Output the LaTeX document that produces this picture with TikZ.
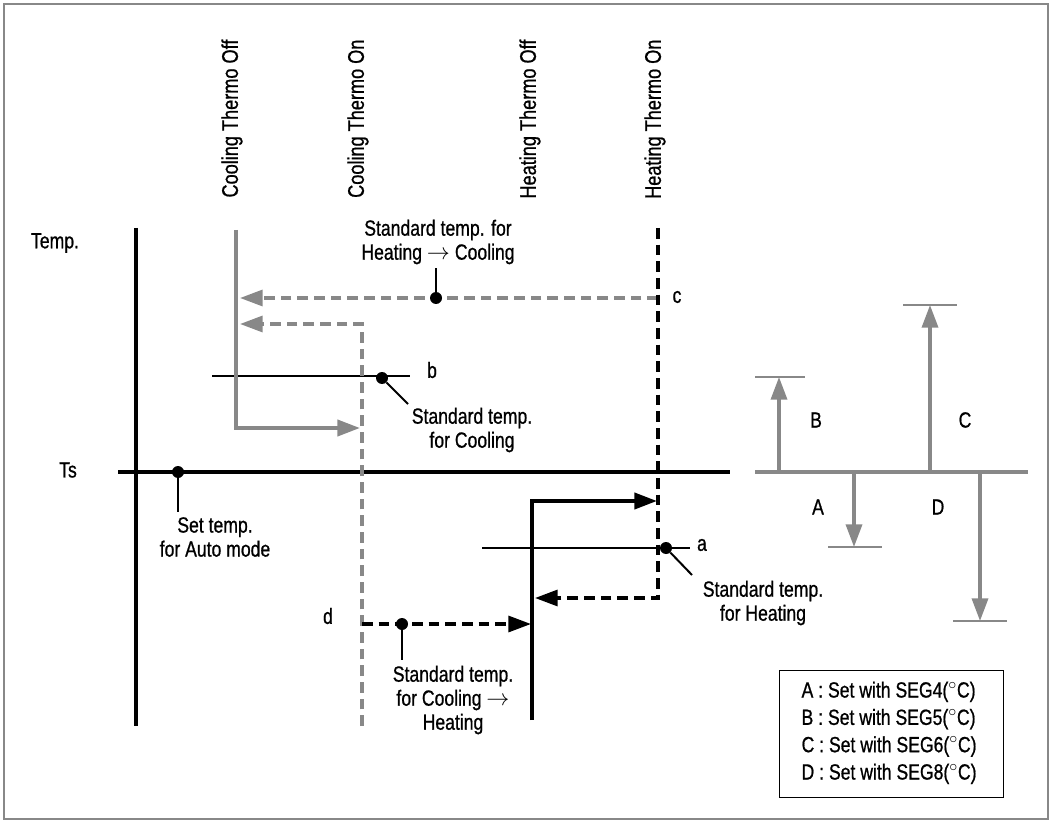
\documentclass[tikz,border=0pt]{standalone}
\usepackage{fontspec}
\setmainfont{Liberation Sans}[FakeStretch=0.8,FakeBold=0.8]
\usetikzlibrary{arrows.meta}
\definecolor{lgray}{RGB}{136,136,136}
\begin{document}
\begin{tikzpicture}[x=0.75pt,y=-0.75pt]
% Definição de estilos
\tikzset{
  lbl/.style={font=\fontsize{16.5}{18}\selectfont, align=center, inner sep=1pt},
  vlbl/.style={font=\fontsize{17}{18}\selectfont, rotate=90, anchor=east, inner sep=1pt},
  arr/.style={-{Triangle[length=17pt,width=12pt]}},
  gdash/.style={lgray, line width=2.4pt, dash pattern=on 8pt off 4.5pt},
  bdash/.style={black, line width=2.4pt, dash pattern=on 8pt off 4.5pt},
  dot/.style={circle, fill=black, inner sep=0pt, minimum size=9pt},
  thin/.style={black, line width=0.8pt}
}
\useasboundingbox (0,0) rectangle (1052,823);
\draw[lgray, line width=1.5pt] (4,4) rectangle (1048,819);

% Rótulos verticais
\node[vlbl] (cto) at (232,38) {Cooling Thermo Off};
\node[vlbl] (cton) at (358,38) {Cooling Thermo On};
\node[vlbl] (hto) at (530,38) {Heating Thermo Off};
\node[vlbl] (hton) at (655,38) {Heating Thermo On};

% Eixos
\node[lbl] (temp) at (55,243) {Temp.};
\node[lbl] (ts) at (68,470) {Ts};
\coordinate (ytop) at (136,228);
\coordinate (ybot) at (136,726);
\draw[line width=2.6pt] (ytop) -- (ybot);
\coordinate (tsl) at (118,472);
\coordinate (tsr) at (730,472);
\draw[line width=2.6pt] (tsl) -- (tsr);

% Set temp
\node[dot] (sdot) at (178,472) {};
\node[lbl] (stxt) at (215,537) {Set temp.\\for Auto mode};
\draw[line width=1.5pt] (sdot) -- (178,512);

% Linha b
\coordinate (bl) at (212,376);
\coordinate (br) at (410,376);
\draw[thin] (bl) -- (br);
% Linha a
\coordinate (al) at (482,548);
\coordinate (ar) at (690,548);
\draw[thin] (al) -- (ar);

% Cinza sólido
\coordinate (g1) at (236,230);
\coordinate (g2) at (236,428);
\coordinate (g3) at (360,428);
\draw[arr, lgray, line width=3pt] (g1) -- (g2) -- (g3);

% Cinza tracejado
\coordinate (c1) at (658,298);
\coordinate (c2) at (240,298);
\draw[gdash, arr] (c1) -- (c2);
\coordinate (d1) at (362,726);
\coordinate (d2) at (362,324);
\coordinate (d3) at (240,324);
\draw[gdash, arr] (d1) -- (d2) -- (d3);

% Preto tracejado
\coordinate (h1) at (658,228);
\coordinate (h2) at (658,598);
\coordinate (h3) at (535,598);
\draw[bdash, arr] (h1) -- (h2) -- (h3);
\coordinate (e1) at (362,624);
\coordinate (e2) at (531,624);
\draw[bdash, arr] (e1) -- (e2);

% Preto sólido
\coordinate (k1) at (532,720);
\coordinate (k2) at (532,501);
\coordinate (k3) at (657,501);
\draw[arr, line width=3pt] (k1) -- (k2) -- (k3);

% Pontos e textos
\node[dot] (cdot) at (436,298) {};
\node[lbl] (ctxt) at (438,242) {Standard temp. for\\Heating $\rightarrow$ Cooling};
\draw[line width=1.5pt] (cdot) -- (436,268);
\node[lbl] (clbl) at (677,297) {c};

\node[dot] (bdot) at (382,378) {};
\draw[line width=1.5pt] (bdot) -- (408,404);
\node[lbl] (blbl) at (432,370) {b};
\node[lbl] (btxt) at (472,430) {Standard temp.\\for Cooling};

\node[dot] (adot) at (666,548) {};
\draw[line width=1.5pt] (adot) -- (692,575);
\node[lbl] (albl) at (702,545) {a};
\node[lbl] (atxt) at (763,603) {Standard temp.\\for Heating};

\node[dot] (ddot) at (402,624) {};
\draw[line width=1.5pt] (ddot) -- (402,660);
\node[lbl] (dlbl) at (328,616) {d};
\node[lbl] (dtxt) at (453,700) {Standard temp.\\for Cooling $\rightarrow$\\Heating};

% Escalas à direita
\coordinate (rl) at (755,472);
\coordinate (rr) at (1028,472);
\draw[lgray, line width=2.6pt] (rl) -- (rr);
\foreach \x/\y/\tl/\tr in {779/377/755/805, 930/305/903/957, 854/547/828/882, 980/621/953/1007}{
  \draw[lgray, line width=1.4pt] (\tl,\y) -- (\tr,\y);
  \draw[arr, lgray, line width=2.6pt] (\x,472) -- (\x,\y);
}
\node[lbl] (lB) at (816,420) {B};
\node[lbl] (lC) at (965,420) {C};
\node[lbl] (lA) at (818,507) {A};
\node[lbl] (lD) at (938,507) {D};

% Legenda
\node[draw, line width=0.6pt, minimum width=168pt, minimum height=95pt] (leg) at (891,734) {};
\node[lbl, align=left, anchor=north west, font=\fontsize{16.5}{20.5}\selectfont] (legtxt) at (800,680)
  {A : Set with SEG4($^\circ$C)\\B : Set with SEG5($^\circ$C)\\C : Set with SEG6($^\circ$C)\\D : Set with SEG8($^\circ$C)};
\end{tikzpicture}
\end{document}
